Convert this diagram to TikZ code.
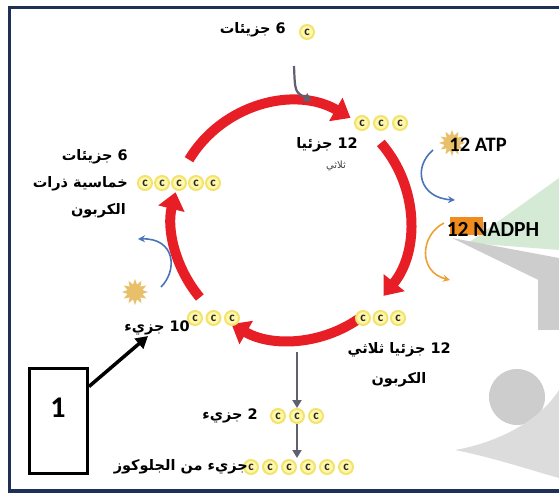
\documentclass[tikz,border=0pt]{standalone}
\usepackage{fontspec}
\setmainfont{Carlito}
\newfontfamily\arabicfont[Script=Arabic]{DejaVu Sans}
\TeXXeTstate=1
\usetikzlibrary{arrows.meta,shapes.geometric}

\definecolor{cycred}{RGB}{232,30,38}
\definecolor{framenavy}{RGB}{30,48,86}
\definecolor{carbfill}{RGB}{255,248,170}
\definecolor{carbring}{RGB}{242,226,110}
\definecolor{stargold}{RGB}{232,192,105}
\definecolor{nadphor}{RGB}{240,140,30}
\definecolor{arrblue}{RGB}{75,115,185}
\definecolor{arrorange}{RGB}{240,160,50}
\definecolor{arrgray}{RGB}{95,95,112}
\definecolor{markgreen}{RGB}{212,234,212}
\definecolor{markgray}{RGB}{205,205,205}

\tikzset{
  carb/.style={circle, fill=carbfill, draw=carbring, line width=2pt, inner sep=0pt,
    minimum size=14pt, font=\bfseries\fontsize{13}{13}\selectfont, text=black!85},
  arlabel/.style={font=\arabicfont\bfseries\fontsize{14.5}{16}\selectfont, inner sep=0pt},
  redarc/.style={cycred, line width=10pt, -{Triangle[length=17pt,width=26pt]}},
  grayarr/.style={arrgray, line width=2.2pt, -{Triangle[length=8pt,width=9pt]}},
  thinarr/.style={line width=1.6pt, -{Stealth[length=7pt,width=7pt]}},
  burst/.style={star, star points=12, star point ratio=1.7, fill=stargold,
    minimum size=26pt, inner sep=0pt}
}

\begin{document}
\begin{tikzpicture}[x=1pt,y=1pt]
\useasboundingbox (0,0) rectangle (559,-494);

% faint logo in the background
\fill[markgreen] (468,-243) -- (559,-178) -- (559,-250) -- cycle;
\fill[markgray] (452,-238) -- (559,-258) -- (559,-290) -- cycle;
\fill[markgray] (538,-275) rectangle (559,-330);
\fill[markgray] (517,-397) circle (28);
\fill[markgray!70] (455,-450) .. controls (500,-442) and (540,-420) .. (559,-390)
  -- (559,-478) .. controls (530,-470) and (495,-458) .. cycle;

% frame
\draw[framenavy, line width=3.5pt] (559,-7.5) -- (9.5,-7.5) -- (9.5,-491) -- (559,-491);

% the red cycle
\coordinate (c) at (291,-221);
\draw[redarc] ([shift={(149:119)}]c) arc[start angle=149, end angle=60, radius=119];
\draw[redarc] ([shift={(41:119)}]c) arc[start angle=41, end angle=-39, radius=119];
\draw[redarc] ([shift={(-54:119)}]c) arc[start angle=-54, end angle=-120, radius=119];
\draw[redarc] ([shift={(220:119)}]c) arc[start angle=220, end angle=166, radius=119];

% carbon rows
\node[carb] (co2) at (307,-32) {c};
\foreach \i in {1,...,3} \node[carb] (pga\i) at ({362+19*(\i-1)},-123) {c};
\foreach \i in {1,...,5} \node[carb] (rubp\i) at ({145+17*(\i-1)},-183) {c};
\foreach \i in {1,...,3} \node[carb] (gone\i) at ({195+18.5*(\i-1)},-318) {c};
\foreach \i in {1,...,3} \node[carb] (gtwo\i) at ({363+17.5*(\i-1)},-318) {c};
\foreach \i in {1,...,3} \node[carb] (out\i) at ({278+19*(\i-1)},-416) {c};
\foreach \i in {1,...,6} \node[carb] (glu\i) at ({251+19*(\i-1)},-467) {c};

% labels
\node[arlabel, anchor=east] (ltop) at (286,-30) {\beginR 6 جزيئات\endR};
\node[arlabel, anchor=east] (lpga) at (358,-145) {\beginR\beginL 12\endL{} جزئيا\endR};
\node[arlabel, font=\arabicfont\fontsize{10}{11}\selectfont, text=black!75] (lpgb) at (336,-166) {\beginR ثلاثي\endR};
\node[arlabel, anchor=east] (lrua) at (128,-157) {\beginR 6 جزيئات\endR};
\node[arlabel, anchor=east] (lrub) at (128,-184) {\beginR خماسية ذرات\endR};
\node[arlabel, anchor=east] (lruc) at (126,-211) {\beginR الكربون\endR};
\node[arlabel, anchor=east] (ten) at (190,-328) {\beginR\beginL 10\endL{} جزيء\endR};
\node[arlabel, anchor=east] (lg3a) at (451,-350) {\beginR\beginL 12\endL{} جزئيا ثلاثي\endR};
\node[arlabel] (lg3b) at (399,-380) {\beginR الكربون\endR};
\node[arlabel, anchor=east] (ltwo) at (258,-416) {\beginR 2 جزيء\endR};
\node[arlabel, anchor=east] (lglu) at (248,-467) {\beginR جزيء من الجلوكوز\endR};

% ATP and NADPH
\node[burst] (atpstar) at (452,-143) {};
\node[font=\bfseries\fontsize{20.5}{22}\selectfont, inner sep=0pt] (atp) at (478,-145) {12 ATP};
\node[fill=nadphor, minimum width=33pt, minimum height=18pt, inner sep=0pt] (nadbox) at (466,-226) {};
\node[font=\bfseries\fontsize{21.5}{23}\selectfont, inner sep=0pt] (nadph) at (493,-229) {12 NADPH};
\node[burst] (adpstar) at (135,-292) {};

% side arrows
\draw[thinarr, arrblue] (433,-150) .. controls (412,-168) and (420,-198) .. (455,-200);
\draw[thinarr, arrorange] (444,-223) .. controls (420,-235) and (418,-272) .. (450,-280);
\draw[thinarr, arrblue] (161,-287) .. controls (178,-270) and (175,-238) .. (138,-239);

% CO2 in, sugar out
\draw[grayarr] (294,-66) .. controls (295,-92) .. (312,-101);
\draw[grayarr] (297,-352) -- (out2.north);
\draw[grayarr] (out2.south) -- (297,-458);

% numbered box
\node[draw, line width=3pt, minimum width=58pt, minimum height=105pt, inner sep=0pt] (box) at (58.5,-420.5) {};
\node[font=\bfseries\fontsize{30}{32}\selectfont] (one) at (58,-408) {1};
\draw[line width=3.5pt, -{Triangle[length=12pt,width=13pt]}] ([yshift=-20pt]box.north east) -- (148,-336);

\end{tikzpicture}
\end{document}
